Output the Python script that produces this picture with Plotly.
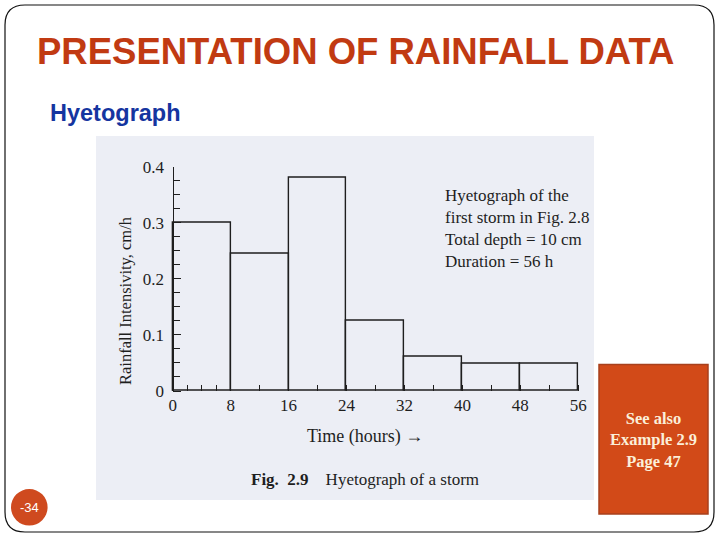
import plotly.graph_objects as go

# ---------------- data ----------------
hour_start = [0, 8, 16, 24, 32, 40, 48]          # start of each 8-h block
block_hours = 8
intensity = [0.30, 0.245, 0.38, 0.125, 0.062, 0.048, 0.048]   # cm/h
x_tick_vals = [0, 2, 4, 6, 8, 12, 16, 20, 24, 28, 32, 36, 40, 44, 48, 52, 56]
x_tick_text = ["0", "", "", "", "8", "", "16", "", "24", "", "32", "", "40", "", "48", "", "56"]
y_tick_vals = [0, 0.1, 0.2, 0.3, 0.4]
y_tick_text = ["0", "0.1", "0.2", "0.3", "0.4"]
note_lines = ["Hyetograph of the", "first storm in Fig. 2.8",
              "Total depth = 10 cm", "Duration = 56 h"]
box_lines = ["See also", "Example 2.9", "Page 47"]

W, H = 720, 540
def px(x): return x / W
def py(y): return 1 - y / H

SERIF = "Liberation Serif, Times New Roman, serif"
SANS = "Liberation Sans, Arial, sans-serif"
INK = "#1e1e1e"

mid = [s + block_hours / 2 for s in hour_start]

fig = go.Figure()
fig.add_trace(go.Bar(
    x=mid, y=intensity, width=[block_hours] * len(mid),
    marker=dict(color="rgba(0,0,0,0)", line=dict(color=INK, width=1.4)),
    hoverinfo="skip", showlegend=False))

# pixel geometry of the plot (x: 0h -> 172.7px, 56h -> 578.3px; y: 0 -> 391px, 0.4 -> 166.7px)
ppx = (578.3 - 172.7) / 56.0
ppy = (391.0 - 166.7) / 0.4
xr = [-0.5, 56.5]
yr = [-0.002, 0.4]
xdom = [px(172.7 + xr[0] * ppx), px(172.7 + xr[1] * ppx)]
ydom = [py(391.0 - yr[0] * ppy), py(391.0 - yr[1] * ppy)]

shapes = []
# slide border with rounded corners
L, T, R, B, r = 5, 5, 714, 532, 20
path = (f"M {px(L+r)},{py(T)} L {px(R-r)},{py(T)} Q {px(R)},{py(T)} {px(R)},{py(T+r)} "
        f"L {px(R)},{py(B-r)} Q {px(R)},{py(B)} {px(R-r)},{py(B)} "
        f"L {px(L+r)},{py(B)} Q {px(L)},{py(B)} {px(L)},{py(B-r)} "
        f"L {px(L)},{py(T+r)} Q {px(L)},{py(T)} {px(L+r)},{py(T)} Z")
shapes.append(dict(type="path", xref="paper", yref="paper", path=path,
                   line=dict(color="#111111", width=1.2), fillcolor="rgba(0,0,0,0)", layer="below"))
# scanned figure background
shapes.append(dict(type="rect", xref="paper", yref="paper",
                   x0=px(96), x1=px(594), y0=py(500), y1=py(136),
                   fillcolor="#ECEEF5", line=dict(width=0), layer="below"))
# orange box
shapes.append(dict(type="rect", xref="paper", yref="paper",
                   x0=px(599), x1=px(708), y0=py(514), y1=py(364.5),
                   fillcolor="#D24A18", line=dict(color="#A8401C", width=1.5), layer="above"))
# page number circle
shapes.append(dict(type="circle", xref="paper", yref="paper",
                   x0=px(11), x1=px(47.6), y0=py(525.6), y1=py(489),
                   fillcolor="#CF4A1F", line=dict(width=0), layer="above"))

ann = []
def txt(t, x, y, size, font=SERIF, color=INK, xanchor="center", angle=0, bold=False, align="center"):
    ann.append(dict(text=(f"<b>{t}</b>" if bold else t), x=px(x), y=py(y),
                    xref="paper", yref="paper", xanchor=xanchor, yanchor="middle",
                    showarrow=False, textangle=angle, align=align,
                    font=dict(family=font, size=size, color=color)))

txt("PRESENTATION OF RAINFALL DATA", 35, 51, 36.5, font=SANS, color="#C13A12", xanchor="left", bold=True)
txt("Hyetograph", 48, 112.5, 23.5, font=SANS, color="#1535A0", xanchor="left", bold=True)
txt("Rainfall Intensivity, cm/h", 125.5, 300.5, 16.5, angle=-90)
txt("Time (hours) →", 365, 436.5, 18)
txt("<b>Fig.  2.9</b>    Hyetograph of a storm", 364.5, 479.5, 17)
txt("<br>".join(note_lines), 442.5, 228, 17, xanchor="left", align="left")
txt("<br>".join(box_lines), 653.5, 440, 16.5, color="#FBEFD9", bold=True)
txt("-34", 29.3, 507.5, 13, font=SANS, color="#FFFFFF")

fig.update_layout(
    template="none",
    width=W, height=H, autosize=False,
    margin=dict(l=0, r=0, t=0, b=0, pad=0, autoexpand=False),
    paper_bgcolor="white", plot_bgcolor="rgba(0,0,0,0)",
    shapes=shapes, annotations=ann, bargap=0, showlegend=False,
    xaxis=dict(domain=xdom, range=xr, anchor="free", position=py(391.0), automargin=False,
               showgrid=False, zeroline=False, showline=False,
               tickmode="array", tickvals=x_tick_vals, ticktext=x_tick_text,
               ticks="inside", ticklen=6.5, tickwidth=1.2, tickcolor=INK,
               ticklabelstandoff=2,
               tickfont=dict(family=SERIF, size=17, color=INK)),
    yaxis=dict(domain=ydom, range=yr, anchor="free", position=px(172.7), automargin=False,
               showgrid=False, zeroline=False, showline=True, linecolor=INK, linewidth=1.4,
               tickmode="array", tickvals=y_tick_vals, ticktext=y_tick_text,
               ticks="inside", ticklen=7.5, tickwidth=1.2, tickcolor=INK,
               minor=dict(dtick=0.025, ticks="inside", ticklen=6, tickwidth=1, tickcolor=INK),
               ticklabelstandoff=5,
               tickfont=dict(family=SERIF, size=17, color=INK)),
)

post = ("document.documentElement.style.margin='0';document.body.style.margin='0';"
        "document.body.style.padding='0';document.documentElement.style.overflow='hidden';"
        "document.body.style.overflow='hidden';"
        "var d=document.getElementById('{plot_id}');d.style.position='fixed';"
        "d.style.left='0px';d.style.top='0px';")
fig.write_html("out.html", post_script=post, config={"displayModeBar": False})
